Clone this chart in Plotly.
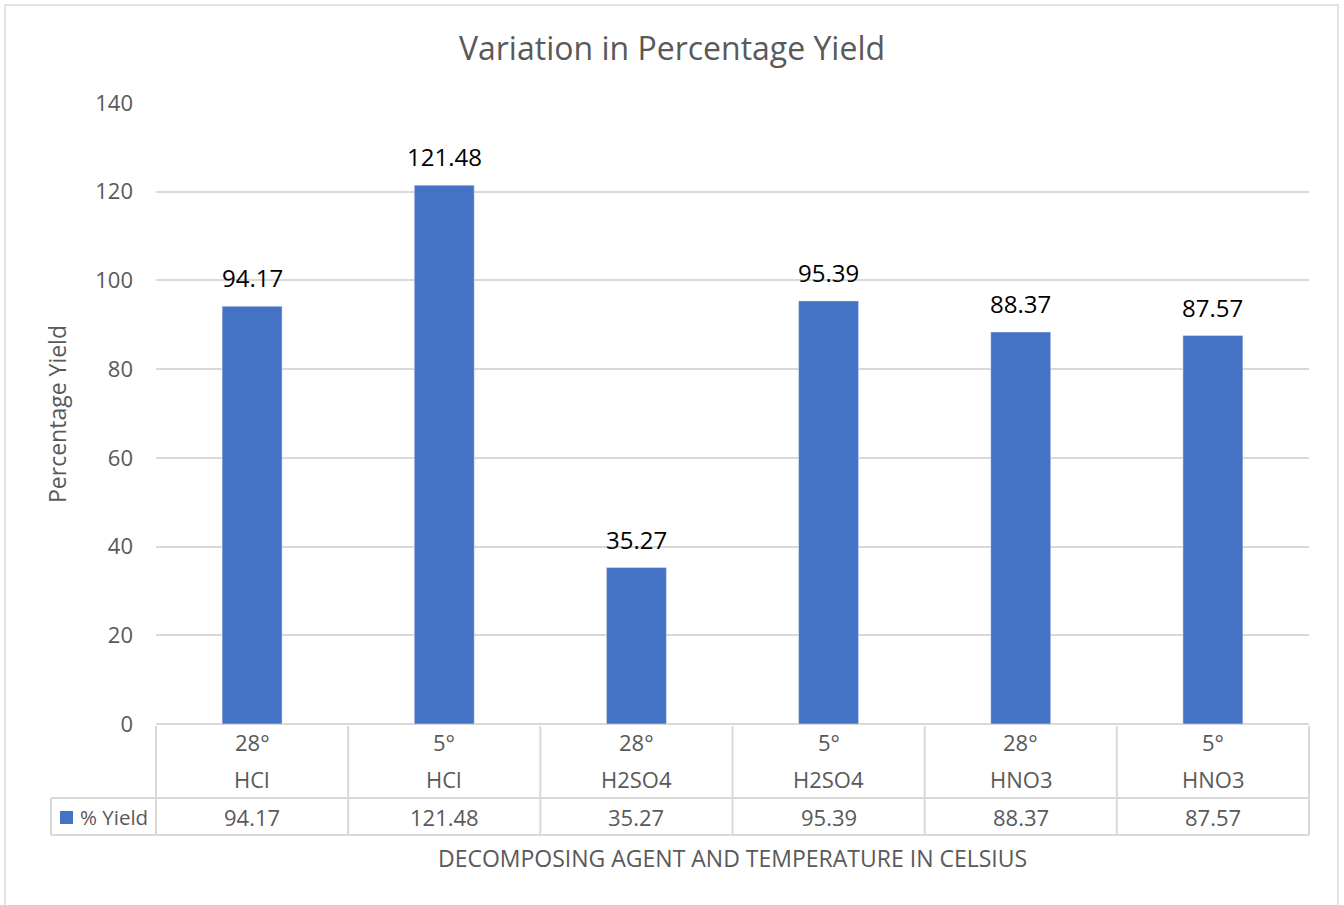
import plotly.graph_objects as go

temperatures = ["28°", "5°", "28°", "5°", "28°", "5°"]
agents = ["HCl", "HCl", "H2SO4", "H2SO4", "HNO3", "HNO3"]
yield_values = [94.17, 121.48, 35.27, 95.39, 88.37, 87.57]
series_name = "% Yield"
y_ticks = [0, 20, 40, 60, 80, 100, 120, 140]

W, H = 1344, 905
L, R, T, B = 156, 1309, 103, 724
PW, PH = R - L, B - T

def px(x):
    return (x - L) / PW

def py(y):
    return (B - y) / PH

BLUE = "#4472C4"
GRID = "#d9d9d9"
GRAY = "#595959"
FONT = "'Open Sans', 'Noto Sans', sans-serif"

n = len(yield_values)
xs = list(range(n))

fig = go.Figure()
fig.add_trace(go.Bar(
    x=xs, y=yield_values, marker_color=BLUE, width=0.312,
    name=series_name, showlegend=False, hoverinfo="x+y",
))

shapes = []
line = dict(color=GRID, width=2)
for yy in (798, 835):
    shapes.append(dict(type="line", xref="paper", yref="paper",
                       x0=px(51), x1=1, y0=py(yy), y1=py(yy), line=line))
for k in range(n + 1):
    xx = L + k * PW / n
    shapes.append(dict(type="line", xref="paper", yref="paper",
                       x0=px(xx), x1=px(xx), y0=py(726), y1=py(835), line=line))
shapes.append(dict(type="line", xref="paper", yref="paper",
                   x0=px(51), x1=px(51), y0=py(798), y1=py(835), line=line))
shapes.append(dict(type="rect", xref="paper", yref="paper",
                   x0=px(60), x1=px(73), y0=py(824), y1=py(811),
                   fillcolor=BLUE, line=dict(width=0)))
shapes.append(dict(type="rect", xref="paper", yref="paper",
                   x0=px(5), x1=px(1338), y0=py(910), y1=py(5),
                   line=dict(color=GRID, width=1.5), layer="below"))

ann = []
tf = dict(size=22, color=GRAY, family=FONT)
for i in range(n):
    ann.append(dict(x=i, y=yield_values[i], xref="x", yref="y", text=f"{yield_values[i]:.2f}",
                    showarrow=False, yanchor="bottom", xanchor="center", yshift=10,
                    font=dict(size=24, color="#000000", family=FONT)))
    ann.append(dict(x=i, y=py(742), xref="x", yref="paper", text=temperatures[i],
                    showarrow=False, yanchor="middle", xanchor="center", font=tf))
    ann.append(dict(x=i, y=py(779), xref="x", yref="paper", text=agents[i],
                    showarrow=False, yanchor="middle", xanchor="center", font=tf))
    ann.append(dict(x=i, y=py(817), xref="x", yref="paper", text=f"{yield_values[i]:.2f}",
                    showarrow=False, yanchor="middle", xanchor="center", font=tf))
ann.append(dict(x=px(78), y=py(817), xref="paper", yref="paper", text=series_name,
                xanchor="left", yanchor="middle", showarrow=False,
                font=dict(size=20.5, color=GRAY, family=FONT)))
ann.append(dict(x=px(732), y=py(858), xref="paper", yref="paper",
                text="DECOMPOSING AGENT AND TEMPERATURE IN CELSIUS",
                xanchor="center", yanchor="middle", showarrow=False,
                font=dict(size=23, color=GRAY, family=FONT)))
ann.append(dict(x=px(57), y=py(414), xref="paper", yref="paper", text="Percentage Yield",
                textangle=-90, xanchor="center", yanchor="middle", showarrow=False,
                font=dict(size=23, color=GRAY, family=FONT)))

fig.update_layout(
    width=W, height=H,
    margin=dict(l=L, r=W - R, t=T, b=H - B, pad=0),
    paper_bgcolor="white", plot_bgcolor="white",
    title=dict(text="Variation in Percentage Yield", x=672 / W, xref="container",
               xanchor="center", y=1 - 49 / H, yref="container", yanchor="middle",
               font=dict(size=32, color=GRAY, family=FONT)),
    xaxis=dict(range=[-0.5, n - 0.5], showticklabels=False, showgrid=False,
               zeroline=False, showline=False, ticks=""),
    yaxis=dict(range=[0, 140], tickvals=y_ticks, showgrid=True, gridcolor=GRID,
               gridwidth=1.5, zeroline=True, zerolinecolor=GRID, zerolinewidth=2,
               showline=False, ticks="", ticklabelstandoff=22,
               tickfont=dict(size=22, color=GRAY, family=FONT)),
    shapes=shapes, annotations=ann,
    font=dict(family=FONT),
)

fig.write_html("out.html", config={"displayModeBar": False},
               post_script="document.body.style.margin='0';")
